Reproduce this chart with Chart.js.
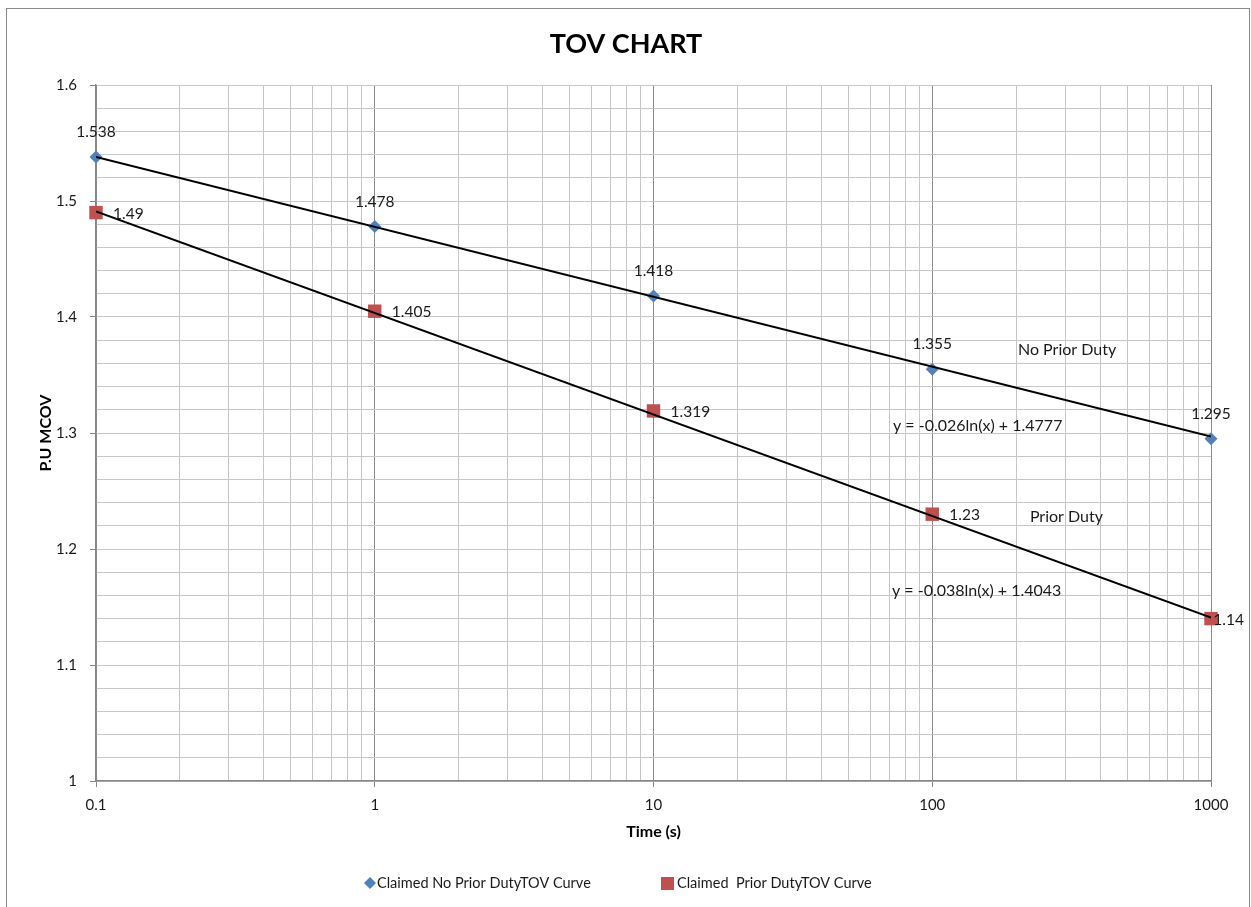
<!DOCTYPE html>
<html lang="en">
<head>
  <meta charset="UTF-8">
  <title>TOV Chart</title>
  <script src="https://cdn.jsdelivr.net/npm/chart.js"></script>
  <style>
    html, body {
      margin: 0;
      padding: 0;
      background: #fff;
    }
    #wrap {
      width: 1251px;
      height: 907px;
    }
  </style>
</head>
<body>
  <div id="wrap"><canvas id="tov"></canvas></div>

  <script>
    // data
    const times = [0.1, 1, 10, 100, 1000];
    const noPriorDuty = [1.538, 1.478, 1.418, 1.355, 1.295];
    const priorDuty = [1.49, 1.405, 1.319, 1.23, 1.14];

    // trendline end points (x = 0.1 and x = 1000)
    const trendX = [0.1, 1000];
    const noPriorTrend = [1.538, 1.297];
    const priorTrend = [1.491, 1.141];

    const decades = [0.1, 1, 10, 100];
    const yTickLabels = ["1", "1.1", "1.2", "1.3", "1.4", "1.5", "1.6"];

    const FONT = "Lato, 'Open Sans', sans-serif";
    const BLUE = "#4F81BD";
    const RED = "#C0504D";

    // text placed on the plot (data coordinates)
    const notes = [
      { text: "No Prior Duty", x: 203, y: 1.372, size: 16 },
      { text: "Prior Duty", x: 224, y: 1.228, size: 16 },
      { text: "y = -0.026ln(x) + 1.4777", x: 72.3, y: 1.306, size: 16 },
      { text: "y = -0.038ln(x) + 1.4043", x: 71.7, y: 1.164, size: 16 },
    ];

    const toPoints = (xs, ys) => xs.map((x, i) => ({ x: x, y: ys[i] }));

    // minor ticks 1..9 per decade plus the last one
    const xTicks = [];
    decades.forEach((d) => {
      for (let k = 1; k <= 9; k++) xTicks.push(+(d * k).toPrecision(3));
    });
    xTicks.push(1000);
    const isDecade = (v) => decades.concat([1000]).some((d) => Math.abs(v - d) < 1e-9);
    const isMajorY = (v) => Math.round(v * 50) % 5 === 0;

    const chromePlugin = {
      id: "chrome",
      beforeDraw(chart) {
        const ctx = chart.ctx;
        ctx.save();
        ctx.fillStyle = "#fff";
        ctx.fillRect(0, 0, chart.width, chart.height);
        ctx.strokeStyle = "#8a8a8a";
        ctx.lineWidth = 1;
        ctx.strokeRect(6.5, 8.5, 1243, 920);
        ctx.restore();
      },
      afterDraw(chart) {
        const ctx = chart.ctx;
        const xs = chart.scales.x;
        const ys = chart.scales.y;
        ctx.save();

        // title
        ctx.fillStyle = "#000";
        ctx.font = "bold 27px " + FONT;
        ctx.textAlign = "center";
        ctx.textBaseline = "middle";
        ctx.fillText("TOV CHART", 626, 44);

        // value labels
        ctx.font = "15.5px " + FONT;
        ctx.fillStyle = "#1a1a1a";
        times.forEach((t, i) => {
          const px = xs.getPixelForValue(t);
          ctx.textAlign = "center";
          ctx.textBaseline = "middle";
          ctx.fillText(String(noPriorDuty[i]), px, ys.getPixelForValue(noPriorDuty[i]) - 25);

          const label = String(priorDuty[i]);
          const w = ctx.measureText(label).width;
          const lx = Math.min(px + 17, 1244 - w);
          ctx.textAlign = "left";
          ctx.fillText(label, lx, ys.getPixelForValue(priorDuty[i]) + 1);
        });

        // notes
        notes.forEach((n) => {
          ctx.font = n.size + "px " + FONT;
          ctx.textAlign = "left";
          ctx.textBaseline = "middle";
          ctx.fillText(n.text, xs.getPixelForValue(n.x), ys.getPixelForValue(n.y));
        });

        // legend
        ctx.font = "14.5px " + FONT;
        ctx.textBaseline = "middle";
        ctx.textAlign = "left";
        const ly = 883;
        ctx.fillStyle = BLUE;
        ctx.beginPath();
        ctx.moveTo(370, ly - 6);
        ctx.lineTo(376, ly);
        ctx.lineTo(370, ly + 6);
        ctx.lineTo(364, ly);
        ctx.closePath();
        ctx.fill();
        ctx.fillStyle = "#1a1a1a";
        ctx.fillText("Claimed No Prior DutyTOV Curve", 377, ly);
        ctx.fillStyle = RED;
        ctx.fillRect(661, ly - 6, 13, 13);
        ctx.fillStyle = "#1a1a1a";
        ctx.fillText("Claimed  Prior DutyTOV Curve", 677, ly);

        ctx.restore();
      },
    };

    new Chart(document.getElementById("tov"), {
      type: "scatter",
      data: {
        datasets: [
          {
            label: "Claimed No Prior DutyTOV Curve",
            data: toPoints(times, noPriorDuty),
            pointStyle: "rectRot",
            pointRadius: 6.5,
            backgroundColor: BLUE,
            borderColor: BLUE,
            borderWidth: 0,
            showLine: false,
            clip: false,
            order: 2,
          },
          {
            label: "Claimed  Prior DutyTOV Curve",
            data: toPoints(times, priorDuty),
            pointStyle: "rect",
            pointRadius: 9.5,
            backgroundColor: RED,
            borderColor: RED,
            borderWidth: 0,
            showLine: false,
            clip: false,
            order: 2,
          },
          {
            label: "trend no prior",
            data: toPoints(trendX, noPriorTrend),
            showLine: true,
            pointRadius: 0,
            borderColor: "#000",
            borderWidth: 2,
            order: 1,
          },
          {
            label: "trend prior",
            data: toPoints(trendX, priorTrend),
            showLine: true,
            pointRadius: 0,
            borderColor: "#000",
            borderWidth: 2,
            order: 1,
          },
        ],
      },
      options: {
        responsive: true,
        maintainAspectRatio: false,
        animation: false,
        events: [],
        layout: {
          padding: { left: 6, right: 40, top: 85, bottom: 0 },
        },
        plugins: {
          legend: { display: false },
          title: { display: false },
          tooltip: { enabled: false },
        },
        scales: {
          x: {
            type: "logarithmic",
            min: 0.1,
            max: 1000,
            afterFit: (scale) => { scale.height = 126; },
            afterBuildTicks: (scale) => {
              scale.ticks = xTicks.map((v) => ({ value: v }));
            },
            border: { color: "#868686", width: 1.5 },
            grid: {
              color: (c) => (c.tick && isDecade(c.tick.value) ? "#8c8c8c" : "#c6c6c6"),
              tickColor: (c) => (c.tick && isDecade(c.tick.value) ? "#868686" : "rgba(0,0,0,0)"),
              lineWidth: 1,
              tickLength: 6,
              drawTicks: true,
            },
            ticks: {
              autoSkip: false,
              maxRotation: 0,
              padding: 9,
              color: "#1a1a1a",
              font: { family: FONT, size: 15 },
              callback: (v) => (isDecade(v) ? String(v) : ""),
            },
            title: {
              display: true,
              text: "Time (s)",
              color: "#000",
              font: { family: FONT, size: 16, weight: "bold" },
              padding: { top: 0, bottom: 66 },
            },
          },
          y: {
            min: 1,
            max: 1.6,
            afterFit: (scale) => { scale.width = 90; },
            border: { color: "#868686", width: 1.5 },
            grid: {
              color: "#c6c6c6",
              tickColor: (c) => (c.tick && isMajorY(c.tick.value) ? "#868686" : "rgba(0,0,0,0)"),
              lineWidth: 1,
              tickLength: 6,
            },
            ticks: {
              stepSize: 0.02,
              autoSkip: false,
              padding: 13,
              color: "#1a1a1a",
              font: { family: FONT, size: 15 },
              callback: (v) => {
                const n = Math.round(v * 50);
                return isMajorY(v) ? yTickLabels[n / 5 - 10] : "";
              },
            },
            title: {
              display: true,
              text: "P.U MCOV",
              color: "#000",
              font: { family: FONT, size: 16, weight: "bold" },
              padding: { top: 30, bottom: 0 },
            },
          },
        },
      },
      plugins: [chromePlugin],
    });
  </script>
</body>
</html>
